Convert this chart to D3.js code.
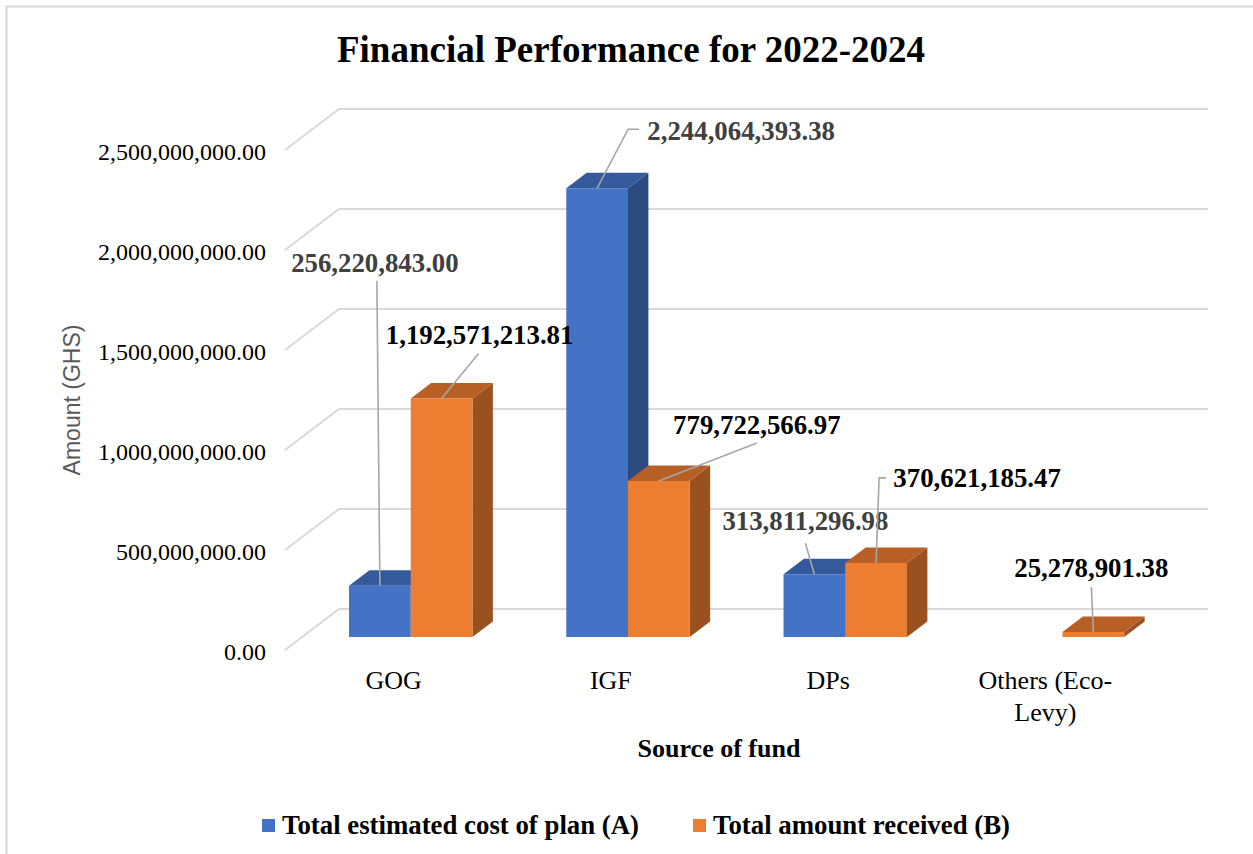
<!DOCTYPE html>
<html>
<head>
<meta charset="utf-8">
<script src="https://cdn.jsdelivr.net/npm/d3@7"></script>
<style>
  html, body { margin: 0; padding: 0; background: #fff; }
  svg { display: block; }
</style>
</head>
<body>
<svg id="chart" width="1253" height="854"></svg>
<script>
// ---------------- DATA ----------------
const categories = ["GOG", "IGF", "DPs", "Others (Eco-Levy)"];
const categoryLines = [["GOG"], ["IGF"], ["DPs"], ["Others (Eco-", "Levy)"]];
const seriesNames = ["Total estimated cost of plan (A)", "Total amount received (B)"];
const estimatedCost = [256220843.00, 2244064393.38, 313811296.98, null];
const amountReceived = [1192571213.81, 779722566.97, 370621185.47, 25278901.38];
const yTicks = [0, 500000000, 1000000000, 1500000000, 2000000000, 2500000000];
const chartTitle = "Financial Performance for 2022-2024";
const xTitle = "Source of fund";
const yTitle = "Amount (GHS)";

// ---------------- LAYOUT / STYLE ----------------
const W = 1253, H = 854;
const serif = "'Liberation Serif', 'Times New Roman', serif";
const sans = "'Liberation Sans', Arial, sans-serif";
const colors = [
  { front: "#4472C4", top: "#345A9C", side: "#2A4A80" },
  { front: "#ED7D31", top: "#B75F24", side: "#9A501F" }
];
const labelColors = ["#404040", "#000000"];
const gridColor = "#D9D9D9";
const leaderColor = "#A6A6A6";

// 3D oblique projection
const DX = 54, DY = -41;          // full depth offset (floor front -> back wall)
const zFront = 0.317, zBack = 0.695;  // bar depth within the floor

const svg = d3.select("#chart");
svg.append("rect").attr("width", W).attr("height", H).attr("fill", "#fff");
// chart frame (only top & left visible)
svg.append("path").attr("d", "M6.5,854 V6.5 H1253")
  .attr("fill", "none").attr("stroke", "#D9D9D9").attr("stroke-width", 2);

const y = d3.scaleLinear().domain([0, 2500000000]).range([650, 150]);
const x = d3.scaleBand().domain(categories).range([285, 1154]).padding(0);
const xs = d3.scaleBand().domain(seriesNames).range([0, x.bandwidth()])
  .paddingInner(0).paddingOuter(0.76);

const P = (px, v, z) => [px + z * DX, y(v) + z * DY];

// gridlines: side wall slant + back wall
const g = svg.append("g");
yTicks.forEach(t => {
  const a = P(285, t, 0), b = P(285, t, 1), c = P(1154, t, 1);
  g.append("path")
    .attr("d", `M${a[0]},${a[1]} L${b[0]},${b[1]} L${c[0]},${c[1]}`)
    .attr("fill", "none").attr("stroke", gridColor).attr("stroke-width", 2);
});

// y tick labels
const fmtTick = d3.format(",.2f");
svg.append("g").selectAll("text").data(yTicks).join("text")
  .attr("x", 266).attr("y", d => y(d) + 9.5)
  .attr("text-anchor", "end")
  .attr("font-family", serif).attr("font-size", 24).attr("fill", "#000")
  .text(d => fmtTick(d));

// bars
const seriesValues = [estimatedCost, amountReceived];
const bars = svg.append("g");
const anchors = [];
categories.forEach((cat, ci) => {
  seriesNames.forEach((s, si) => {
    const v = seriesValues[si][ci];
    if (v == null) return;
    const x0 = x(cat) + xs(s), x1 = x0 + xs.bandwidth();
    const f0t = P(x0, v, zFront), f1t = P(x1, v, zFront), f1b = P(x1, 0, zFront), f0b = P(x0, 0, zFront);
    const b0t = P(x0, v, zBack), b1t = P(x1, v, zBack), b1b = P(x1, 0, zBack);
    const poly = pts => "M" + pts.map(p => p.join(",")).join("L") + "Z";
    bars.append("path").attr("d", poly([f1t, b1t, b1b, f1b])).attr("fill", colors[si].side);
    bars.append("path").attr("d", poly([f0t, f1t, b1t, b0t])).attr("fill", colors[si].top);
    bars.append("path").attr("d", poly([f0t, f1t, f1b, f0b])).attr("fill", colors[si].front);
    anchors.push({ ci, si, v, ax: (f0t[0] + f1t[0]) / 2, ay: f0t[1] });
  });
});

// data labels with leader lines (offsets relative to the bar's top-front-centre)
const labelLayout = {
  "0-0": { dx: -5, dy: -314, lead: [[-3, -305], [0, 0]] },
  "0-1": { dx: 38, dy: -54.5, lead: [[37, -45], [0, 0]] },
  "1-0": { dx: 144, dy: -48, lead: [[42, -59], [31, -59], [0, 0]] },
  "1-1": { dx: 98, dy: -47, lead: [[98, -38], [0, 0]] },
  "2-0": { dx: -9, dy: -44, lead: [[-9, -31], [0, 0]] },
  "2-1": { dx: 101, dy: -76, lead: [[10, -85], [3, -85], [0, 0]] },
  "3-1": { dx: -2, dy: -55, lead: [[-2, -45], [0, 0]] }
};
const fmtVal = d3.format(",.2f");
const lab = svg.append("g");
anchors.forEach(a => {
  const L = labelLayout[a.ci + "-" + a.si];
  if (!L) return;
  const line = d3.line()(L.lead.map(p => [a.ax + p[0], a.ay + p[1]]));
  lab.append("path").attr("d", line).attr("fill", "none")
    .attr("stroke", leaderColor).attr("stroke-width", 1.6);
  lab.append("text")
    .attr("x", a.ax + L.dx).attr("y", a.ay + L.dy)
    .attr("text-anchor", "middle")
    .attr("font-family", serif).attr("font-size", 26.8).attr("font-weight", "bold")
    .attr("fill", labelColors[a.si])
    .text(fmtVal(a.v));
});

// category labels
categories.forEach((cat, ci) => {
  const cx = x(cat) + x.bandwidth() / 2;
  categoryLines[ci].forEach((ln, li) => {
    svg.append("text").attr("x", cx).attr("y", 689 + li * 32)
      .attr("text-anchor", "middle")
      .attr("font-family", serif).attr("font-size", 26).attr("fill", "#000")
      .text(ln);
  });
});

// titles
svg.append("text").attr("x", 631).attr("y", 62).attr("text-anchor", "middle")
  .attr("font-family", serif).attr("font-size", 37).attr("font-weight", "bold")
  .attr("fill", "#000").text(chartTitle);
svg.append("text").attr("x", 719).attr("y", 757).attr("text-anchor", "middle")
  .attr("font-family", serif).attr("font-size", 26).attr("font-weight", "bold")
  .attr("fill", "#000").text(xTitle);
svg.append("text").attr("transform", "translate(80,400) rotate(-90)")
  .attr("text-anchor", "middle")
  .attr("font-family", sans).attr("font-size", 23).attr("fill", "#595959")
  .text(yTitle);

// legend
const legendX = [262, 693];
seriesNames.forEach((s, i) => {
  svg.append("rect").attr("x", legendX[i]).attr("y", 819).attr("width", 13).attr("height", 13)
    .attr("fill", colors[i].front);
  svg.append("text").attr("x", legendX[i] + 20).attr("y", 834)
    .attr("font-family", serif).attr("font-size", 26.8).attr("font-weight", "bold")
    .attr("fill", "#000").text(s);
});
</script>
</body>
</html>
